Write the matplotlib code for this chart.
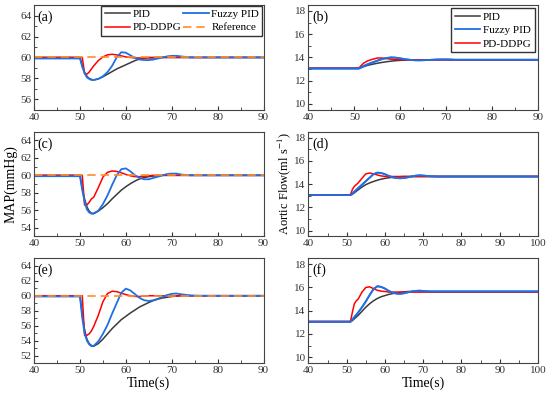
import matplotlib
matplotlib.use('Agg')
import matplotlib.pyplot as plt
from matplotlib.ticker import MultipleLocator

plt.rcParams['font.family'] = ['Liberation Serif', 'DejaVu Serif']
plt.rcParams['mathtext.fontset'] = 'stix'

# time grid (s)
t = [40, 50, 50.5, 51, 51.5, 52, 52.5, 53, 54, 55, 56, 57, 58, 59, 60, 61, 62, 63,
     64, 65, 66, 67, 68, 69, 70, 71, 72, 74, 76, 80, 90, 100]

# MAP (mmHg)
pid_a = [60.0, 60.0, 59.2, 58.6, 58.2, 58.0, 57.9, 57.85, 57.95, 58.15, 58.4, 58.65, 58.9, 59.1,
         59.3, 59.5, 59.7, 59.85, 59.93, 60.0] + [60.0] * 12
fuzzy_a = [59.9, 59.9, 59.1, 58.5, 58.1, 57.95, 57.85, 57.85, 57.95, 58.2, 58.6, 59.2, 60.0, 60.5,
           60.45, 60.2, 59.95, 59.8, 59.75, 59.75, 59.8, 59.9, 60.0, 60.1, 60.15, 60.15, 60.1,
           60.0, 60.0, 60.0, 60.0, 60.0]
ddpg_a = [60.0, 60.0, 60.0, 58.45, 58.4, 58.6, 58.9, 59.2, 59.7, 60.05, 60.25, 60.3, 60.25, 60.15,
          60.05, 60.0, 59.95, 59.95, 59.95, 59.95, 59.95] + [60.0] * 11

pid_c = [60.0, 60.0, 58.5, 57.3, 56.4, 55.9, 55.65, 55.6, 55.9, 56.3, 56.75, 57.3, 57.8, 58.3,
         58.7, 59.05, 59.35, 59.6, 59.75, 59.85, 59.92, 59.97, 60.0] + [60.0] * 9
fuzzy_c = [59.9, 59.9, 58.3, 57.0, 56.1, 55.75, 55.6, 55.65, 55.95, 56.7, 57.7, 58.9, 60.0, 60.7,
           60.8, 60.45, 60.0, 59.7, 59.55, 59.55, 59.7, 59.85, 60.0, 60.15, 60.2, 60.2, 60.1,
           60.0, 60.0, 60.0, 60.0, 60.0]
ddpg_c = [60.0, 60.0, 60.0, 56.6, 56.6, 56.9, 57.3, 57.5, 58.6, 59.8, 60.35, 60.5, 60.45, 60.3,
          60.1, 59.95, 59.85, 59.85, 59.9, 59.95, 60.0] + [60.0] * 11

pid_e = [60.0, 60.0, 57.5, 55.5, 54.2, 53.6, 53.35, 53.25, 53.6, 54.2, 54.9, 55.6, 56.2, 56.8,
         57.25, 57.7, 58.1, 58.5, 58.8, 59.1, 59.35, 59.55, 59.7, 59.8, 59.9, 59.95, 60.0] + [60.0] * 5
fuzzy_e = [59.9, 59.9, 57.0, 55.0, 54.0, 53.5, 53.25, 53.3, 53.9, 54.9, 56.1, 57.6, 59.0, 60.4,
           60.95, 60.7, 60.2, 59.7, 59.4, 59.3, 59.4, 59.6, 59.85, 60.1, 60.25, 60.3, 60.2,
           60.05, 60.0, 60.0, 60.0, 60.0]
ddpg_e = [60.0, 60.0, 60.0, 54.7, 54.7, 54.9, 55.3, 55.9, 57.4, 59.2, 60.3, 60.6, 60.55, 60.35,
          60.15, 60.0, 59.9, 59.9, 59.95, 60.0] + [60.0] * 12

# Aortic flow (ml/s)
pid_b = [13.05, 13.05, 13.05, 13.05, 13.12, 13.2, 13.27, 13.33, 13.42, 13.5, 13.57, 13.63, 13.68,
         13.72, 13.75, 13.77, 13.79, 13.8] + [13.8] * 14
fuzzy_b = [13.05, 13.05, 13.05, 13.05, 13.15, 13.25, 13.35, 13.43, 13.58, 13.72, 13.85, 13.95, 14.0,
           13.98, 13.92, 13.85, 13.8, 13.76, 13.75, 13.76, 13.78, 13.8, 13.82, 13.83, 13.83,
           13.82, 13.8, 13.8, 13.8, 13.8, 13.8, 13.8]
ddpg_b = [13.08, 13.08, 13.08, 13.1, 13.3, 13.5, 13.62, 13.72, 13.85, 13.95, 13.95, 13.9, 13.85,
          13.82, 13.8] + [13.8] * 17

pid_d = [13.05] * 4 + [13.12, 13.25, 13.38, 13.5, 13.75, 13.95, 14.1, 14.22, 14.33, 14.42, 14.49,
                       14.54, 14.58, 14.61, 14.63, 14.65] + [14.65] * 12
fuzzy_d = [13.05] * 4 + [13.2, 13.35, 13.5, 13.65, 13.95, 14.25, 14.55, 14.85, 14.98, 14.95, 14.85,
                         14.7, 14.58, 14.52, 14.5, 14.52, 14.58, 14.65, 14.72, 14.75, 14.73, 14.7,
                         14.67, 14.65, 14.65, 14.65, 14.65, 14.65]
ddpg_d = [13.08, 13.08, 13.08, 13.1, 13.55, 13.8, 13.95, 14.1, 14.5, 14.88, 14.95, 14.88, 14.78,
          14.7, 14.66, 14.65] + [14.65] * 16

pid_f = [13.05] * 4 + [13.15, 13.3, 13.45, 13.6, 13.95, 14.3, 14.6, 14.85, 15.05, 15.2, 15.3, 15.4,
                       15.47, 15.53, 15.58, 15.62, 15.65] + [15.65] * 11
fuzzy_f = [13.05] * 4 + [13.25, 13.45, 13.65, 13.85, 14.3, 14.8, 15.35, 15.85, 16.1, 16.05, 15.9,
                         15.7, 15.55, 15.47, 15.45, 15.5, 15.58, 15.65, 15.7, 15.72, 15.7, 15.67,
                         15.65, 15.65, 15.65, 15.65, 15.65, 15.65]
ddpg_f = [13.08, 13.08, 13.08, 13.1, 13.9, 14.6, 14.85, 15.0, 15.6, 16.0, 16.05, 15.9, 15.75,
          15.68, 15.65] + [15.6] * 17

ref_t = [40, 100]
ref_map = [60, 60]

c_pid = '#3a3a3a'
c_fuzzy = '#1f6fe6'
c_ddpg = '#ff0000'
c_ref = '#ff8c2a'

fig, axes = plt.subplots(3, 2, figsize=(5.5, 3.93), dpi=100)
fig.subplots_adjust(left=0.062, right=0.978, top=0.987, bottom=0.0763, hspace=0.21, wspace=0.196)

left = [(pid_a, fuzzy_a, ddpg_a, (55, 65), '(a)'),
        (pid_c, fuzzy_c, ddpg_c, (53, 65), '(c)'),
        (pid_e, fuzzy_e, ddpg_e, (51, 65), '(e)')]
right = [(pid_b, fuzzy_b, ddpg_b, (40, 90), '(b)'),
         (pid_d, fuzzy_d, ddpg_d, (40, 100), '(d)'),
         (pid_f, fuzzy_f, ddpg_f, (40, 100), '(f)')]

for i, (p, fz, dd, yl, lab) in enumerate(left):
    ax = axes[i, 0]
    ax.plot(t, p, color=c_pid, lw=1.1, label='PID')
    ax.plot(t, dd, color=c_ddpg, lw=1.1, label='PD-DDPG')
    ax.plot(t, fz, color=c_fuzzy, lw=1.3, label='Fuzzy PID')
    ax.plot(ref_t, ref_map, color=c_ref, lw=1.2, ls=(0, (5, 3)), label='Reference')
    ax.set_xlim(40, 90)
    ax.set_ylim(*yl)
    ax.yaxis.set_major_locator(MultipleLocator(2))
    ax.text(0.015, 0.885, lab, transform=ax.transAxes, fontsize=10, va='center')

for i, (p, fz, dd, xl, lab) in enumerate(right):
    ax = axes[i, 1]
    ax.plot(t, p, color=c_pid, lw=1.1, label='PID')
    ax.plot(t, fz, color=c_fuzzy, lw=1.3, label='Fuzzy PID')
    ax.plot(t, dd, color=c_ddpg, lw=1.1, label='PD-DDPG')
    ax.plot(t, fz, color=c_fuzzy, lw=1.3)
    ax.set_xlim(*xl)
    ax.set_ylim(9.5, 18.5)
    ax.yaxis.set_major_locator(MultipleLocator(2))
    ax.text(0.015, 0.885, lab, transform=ax.transAxes, fontsize=10, va='center')

for ax in axes.flat:
    ax.xaxis.set_major_locator(MultipleLocator(10))
    ax.xaxis.set_minor_locator(MultipleLocator(5))
    ax.yaxis.set_minor_locator(MultipleLocator(1))
    ax.tick_params(which='both', direction='in', labelsize=8, colors='#333333', pad=2)
    ax.tick_params(which='major', length=3)
    ax.tick_params(which='minor', length=2)
    for s in ax.spines.values():
        s.set_color('#444444')

h, l = axes[0, 0].get_legend_handles_labels()
axes[0, 0].legend(h, l, ncol=2, loc='upper right', fontsize=8, fancybox=False,
                  edgecolor='#333333', framealpha=1, handlelength=2.3, columnspacing=0.2,
                  handletextpad=0.2, borderpad=0.3, labelspacing=0.3, borderaxespad=0.1)
h, l = axes[0, 1].get_legend_handles_labels()
axes[0, 1].legend(h[:3], l[:3], loc='upper right', fontsize=8, fancybox=False,
                  edgecolor='#333333', framealpha=1, handlelength=2.3,
                  handletextpad=0.2, borderpad=0.3, labelspacing=0.35, borderaxespad=0.3)

axes[1, 0].set_ylabel('MAP(mmHg)', fontsize=10, labelpad=2)
axes[1, 1].set_ylabel('Aortic Flow(ml s$^{-1}$)', fontsize=9, labelpad=1)
axes[2, 0].set_xlabel('Time(s)', fontsize=10, labelpad=1)
axes[2, 1].set_xlabel('Time(s)', fontsize=10, labelpad=1)

fig.savefig('out.png', dpi=100)
